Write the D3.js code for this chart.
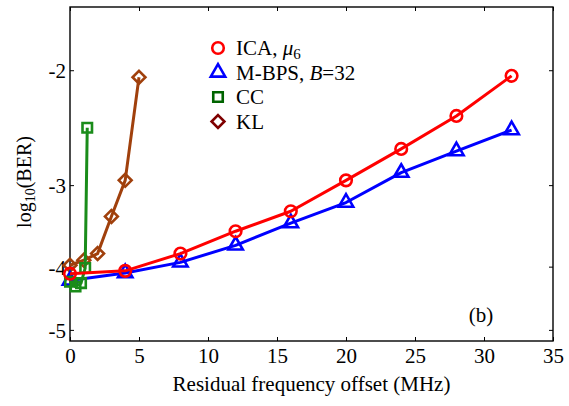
<!DOCTYPE html>
<html>
<head>
<meta charset="utf-8">
<script src="https://cdn.jsdelivr.net/npm/d3@7/dist/d3.min.js"></script>
<style>
  html, body { margin: 0; padding: 0; background: #fff; }
  svg { display: block; font-family: "Liberation Serif", "Times New Roman", serif; }
</style>
</head>
<body>
<svg id="chart" width="569" height="406"></svg>
<script>
// Residual frequency offset (MHz) and log10(BER) for each carrier recovery scheme
const icaX = [0, 4, 8, 12, 16, 20, 24, 28, 32];
const icaY = [-4.10, -4.06, -3.82, -3.53, -3.29, -2.95, -2.64, -2.35, -2.04];

const mbpsX = [0, 4, 8, 12, 16, 20, 24, 28, 32];
const mbpsY = [-4.20, -4.09, -3.94, -3.71, -3.43, -3.19, -2.87, -2.66, -2.47];

const ccX = [0, 0.4, 0.8, 1.1, 1.25];
const ccY = [-4.22, -4.29, -4.24, -4.02, -2.45];

const klX = [0, 1, 2, 3, 4, 5];
const klY = [-3.98, -3.91, -3.82, -3.35, -2.95, -2.05];

const xTicks = [0, 5, 10, 15, 20, 25, 30, 35];
const yTicks = [-2, -3, -4, -5];

const svg = d3.select("#chart");
const plotLeft = 70, plotRight = 553, plotTop = 7, plotBottom = 341;

const x = d3.scaleLinear().domain([0, 35]).range([plotLeft, plotRight]);
// log10(BER) axis drawn on a logarithmic scale of its (negative) value
const y = d3.scaleLog().domain([-1.6, -5.2]).range([plotTop, plotBottom]);

const series = [
  { name: "KL",   xs: klX,   ys: klY,   line: "#a0400c", mark: "#a0400c", shape: "diamond" },
  { name: "MBPS", xs: mbpsX, ys: mbpsY, line: "#0000ff", mark: "#0000ff", shape: "triangle" },
  { name: "CC",   xs: ccX,   ys: ccY,   line: "#1a8c1a", mark: "#1a8c1a", shape: "square" },
  { name: "ICA",  xs: icaX,  ys: icaY,  line: "#ff0000", mark: "#ff0000", shape: "circle" }
];

const symbolPath = {
  circle: d3.symbol().type(d3.symbolCircle).size(105)(),
  triangle: d3.symbol().type(d3.symbolTriangle).size(90)(),
  square: d3.symbol().type(d3.symbolSquare).size(90)(),
  diamond: d3.symbol().type(d3.symbolDiamond2).size(105)()
};

// axes box
svg.append("rect")
  .attr("x", plotLeft).attr("y", plotTop)
  .attr("width", plotRight - plotLeft).attr("height", plotBottom - plotTop)
  .attr("fill", "none").attr("stroke", "#000").attr("stroke-width", 1.4);

const tickLen = 4;
const bottomAxis = svg.append("g").attr("transform", `translate(0,${plotBottom})`)
  .call(d3.axisBottom(x).tickValues(xTicks).tickSize(-tickLen).tickPadding(7).tickFormat(d => String(d)));
const topAxis = svg.append("g").attr("transform", `translate(0,${plotTop})`)
  .call(d3.axisTop(x).tickValues(xTicks).tickSize(-tickLen).tickFormat(""));
const leftAxis = svg.append("g").attr("transform", `translate(${plotLeft},0)`)
  .call(d3.axisLeft(y).tickValues(yTicks).tickSize(-tickLen).tickPadding(4).tickFormat(d => String(d)));
const rightAxis = svg.append("g").attr("transform", `translate(${plotRight},0)`)
  .call(d3.axisRight(y).tickValues(yTicks).tickSize(-tickLen).tickFormat(""));

[bottomAxis, topAxis, leftAxis, rightAxis].forEach(g => {
  g.select(".domain").remove();
  g.selectAll(".tick line").attr("stroke", "#000").attr("stroke-width", 1);
  g.selectAll(".tick text")
    .attr("fill", "#000")
    .style("font-family", "'Liberation Serif', 'Times New Roman', serif")
    .style("font-size", "21px");
});
leftAxis.selectAll(".tick text").attr("dy", "0.35em");

// data lines and markers
const line = d3.line().x(d => x(d[0])).y(d => y(d[1]));
series.forEach(s => {
  const pts = s.xs.map((v, i) => [v, s.ys[i]]);
  const g = svg.append("g");
  g.append("path").datum(pts)
    .attr("d", line)
    .attr("fill", "none")
    .attr("stroke", s.line)
    .attr("stroke-width", 3)
    .attr("stroke-linejoin", "round");
  g.selectAll("path.mk").data(pts).enter().append("path")
    .attr("class", "mk")
    .attr("d", symbolPath[s.shape])
    .attr("transform", d => `translate(${x(d[0])},${y(d[1])})`)
    .attr("fill", "none")
    .attr("stroke", s.mark)
    .attr("stroke-width", 2.6);
});

// legend
const legendItems = [
  { shape: "circle", color: "#ff0000" },
  { shape: "triangle", color: "#0000ff" },
  { shape: "square", color: "#006400" },
  { shape: "diamond", color: "#7f0000" }
];
const legend = svg.append("g").attr("transform", "translate(218,48)");
const rowH = 24.5;
legendItems.forEach((it, i) => {
  legend.append("path")
    .attr("d", symbolPath[it.shape])
    .attr("transform", `translate(0,${i * rowH})`)
    .attr("fill", "none")
    .attr("stroke", it.color)
    .attr("stroke-width", 2.6);
});
const legendText = legend.append("g")
  .style("font-size", "21px").attr("fill", "#000");
const t0 = legendText.append("text").attr("x", 18).attr("y", 0).attr("dy", "0.35em");
t0.append("tspan").text("ICA, ");
t0.append("tspan").attr("font-style", "italic").text("μ");
t0.append("tspan").attr("font-size", "15px").attr("dy", "4").text("6");
const t1 = legendText.append("text").attr("x", 18).attr("y", rowH).attr("dy", "0.35em");
t1.append("tspan").text("M-BPS, ");
t1.append("tspan").attr("font-style", "italic").text("B");
t1.append("tspan").text("=32");
legendText.append("text").attr("x", 18).attr("y", 2 * rowH).attr("dy", "0.35em").text("CC");
legendText.append("text").attr("x", 18).attr("y", 3 * rowH).attr("dy", "0.35em").text("KL");

// panel tag
svg.append("text").attr("x", 481).attr("y", 322)
  .attr("text-anchor", "middle").style("font-size", "21px").text("(b)");

// axis titles
svg.append("text")
  .attr("x", (plotLeft + plotRight) / 2).attr("y", 391)
  .attr("text-anchor", "middle").style("font-size", "21px")
  .text("Residual frequency offset (MHz)");

const yt = svg.append("text")
  .attr("transform", "translate(31,182) rotate(-90)")
  .attr("text-anchor", "middle").style("font-size", "20px");
yt.append("tspan").text("log");
yt.append("tspan").attr("font-size", "14px").attr("dy", "4").text("10");
yt.append("tspan").attr("dy", "-4").text("(BER)");
</script>
</body>
</html>
